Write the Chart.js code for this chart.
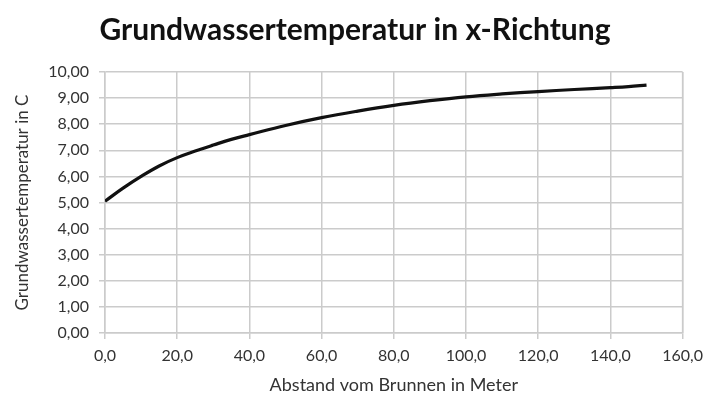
<!DOCTYPE html>
<html>
<head>
<meta charset="utf-8">
<script src="https://cdn.jsdelivr.net/npm/chart.js@4"></script>
<style>
    html, body { margin: 0; padding: 0; background: #fff; }
    #wrap { width: 710px; height: 401px; }
</style>
</head>
<body>
<div id="wrap"><canvas id="chart1"></canvas></div>
<script>
// Abstand vom Brunnen (m) und Temperatur (C)
const distances = [0, 5, 10, 15, 20, 25, 30, 35, 40, 50, 60, 70, 80, 90, 100, 110, 120, 130, 140, 145, 150];
const temperatures = [5.05, 5.55, 6.0, 6.4, 6.72, 6.97, 7.2, 7.42, 7.6, 7.95, 8.25, 8.5, 8.72, 8.9, 9.05, 9.16, 9.25, 9.33, 9.4, 9.44, 9.5];
const xTicks = [0, 20, 40, 60, 80, 100, 120, 140, 160];
const yTicks = [0, 1, 2, 3, 4, 5, 6, 7, 8, 9, 10];

const fmt = (v, d) => v.toFixed(d).replace('.', ',');

window.onload = function () {
    const ctx1 = document.getElementById('chart1').getContext('2d');
    const points = distances.map((d, i) => ({x: d, y: temperatures[i]}));

    new Chart(ctx1, {
        type: 'line', data: {
            datasets: [{
                label: 'Temperatur',
                data: points,
                borderColor: '#111',
                borderWidth: 3.2,
                pointRadius: 0,
                tension: 0.4,
                fill: false
            }]
        }, options: {
            responsive: true,
            maintainAspectRatio: false,
            animation: false,
            layout: {padding: {left: 0, right: 0, top: 0, bottom: 0}},
            plugins: {
                legend: {display: false},
                tooltip: {enabled: false},
                title: {
                    display: true,
                    text: 'Grundwassertemperatur in x-Richtung',
                    color: '#111',
                    font: {family: 'Lato', size: 30, weight: 'bold'},
                    padding: {top: 12, bottom: 24}
                }
            },
            scales: {
                x: {
                    type: 'linear', min: 0, max: 160,
                    afterBuildTicks: s => { s.ticks = xTicks.map(v => ({value: v})); },
                    afterFit: s => { s.height = 68; },
                    grid: {color: '#cbcbcb', lineWidth: 1.5, tickLength: 6},
                    border: {color: '#cbcbcb', width: 1.5},
                    ticks: {
                        color: '#333', padding: 7, maxRotation: 0,
                        font: {family: 'Lato', size: 16},
                        callback: v => fmt(v, 1)
                    },
                    title: {
                        display: true, text: 'Abstand vom Brunnen in Meter', color: '#333',
                        font: {family: 'Lato', size: 18}, padding: {top: 4, bottom: 5}
                    }
                },
                y: {
                    min: 0, max: 10,
                    afterBuildTicks: s => { s.ticks = yTicks.map(v => ({value: v})); },
                    afterFit: s => { s.width = 105; },
                    grid: {color: '#cbcbcb', lineWidth: 1.5, tickLength: 6},
                    border: {color: '#cbcbcb', width: 1.5},
                    ticks: {
                        color: '#333', padding: 10,
                        font: {family: 'Lato', size: 16},
                        callback: v => fmt(v, 2)
                    },
                    title: {
                        display: true, text: 'Grundwassertemperatur in C', color: '#333',
                        font: {family: 'Lato', size: 17}, padding: {top: 12, bottom: 0}
                    }
                }
            }
        },
        plugins: [{
            id: 'rightBorder',
            afterDraw(chart) {
                const a = chart.chartArea, c = chart.ctx;
                c.save();
                c.strokeStyle = '#cbcbcb';
                c.lineWidth = 1.5;
                c.beginPath();
                c.moveTo(a.right, a.top);
                c.lineTo(a.right, a.bottom);
                c.stroke();
                c.restore();
            }
        }]
    });
}
</script>
</body>
</html>
